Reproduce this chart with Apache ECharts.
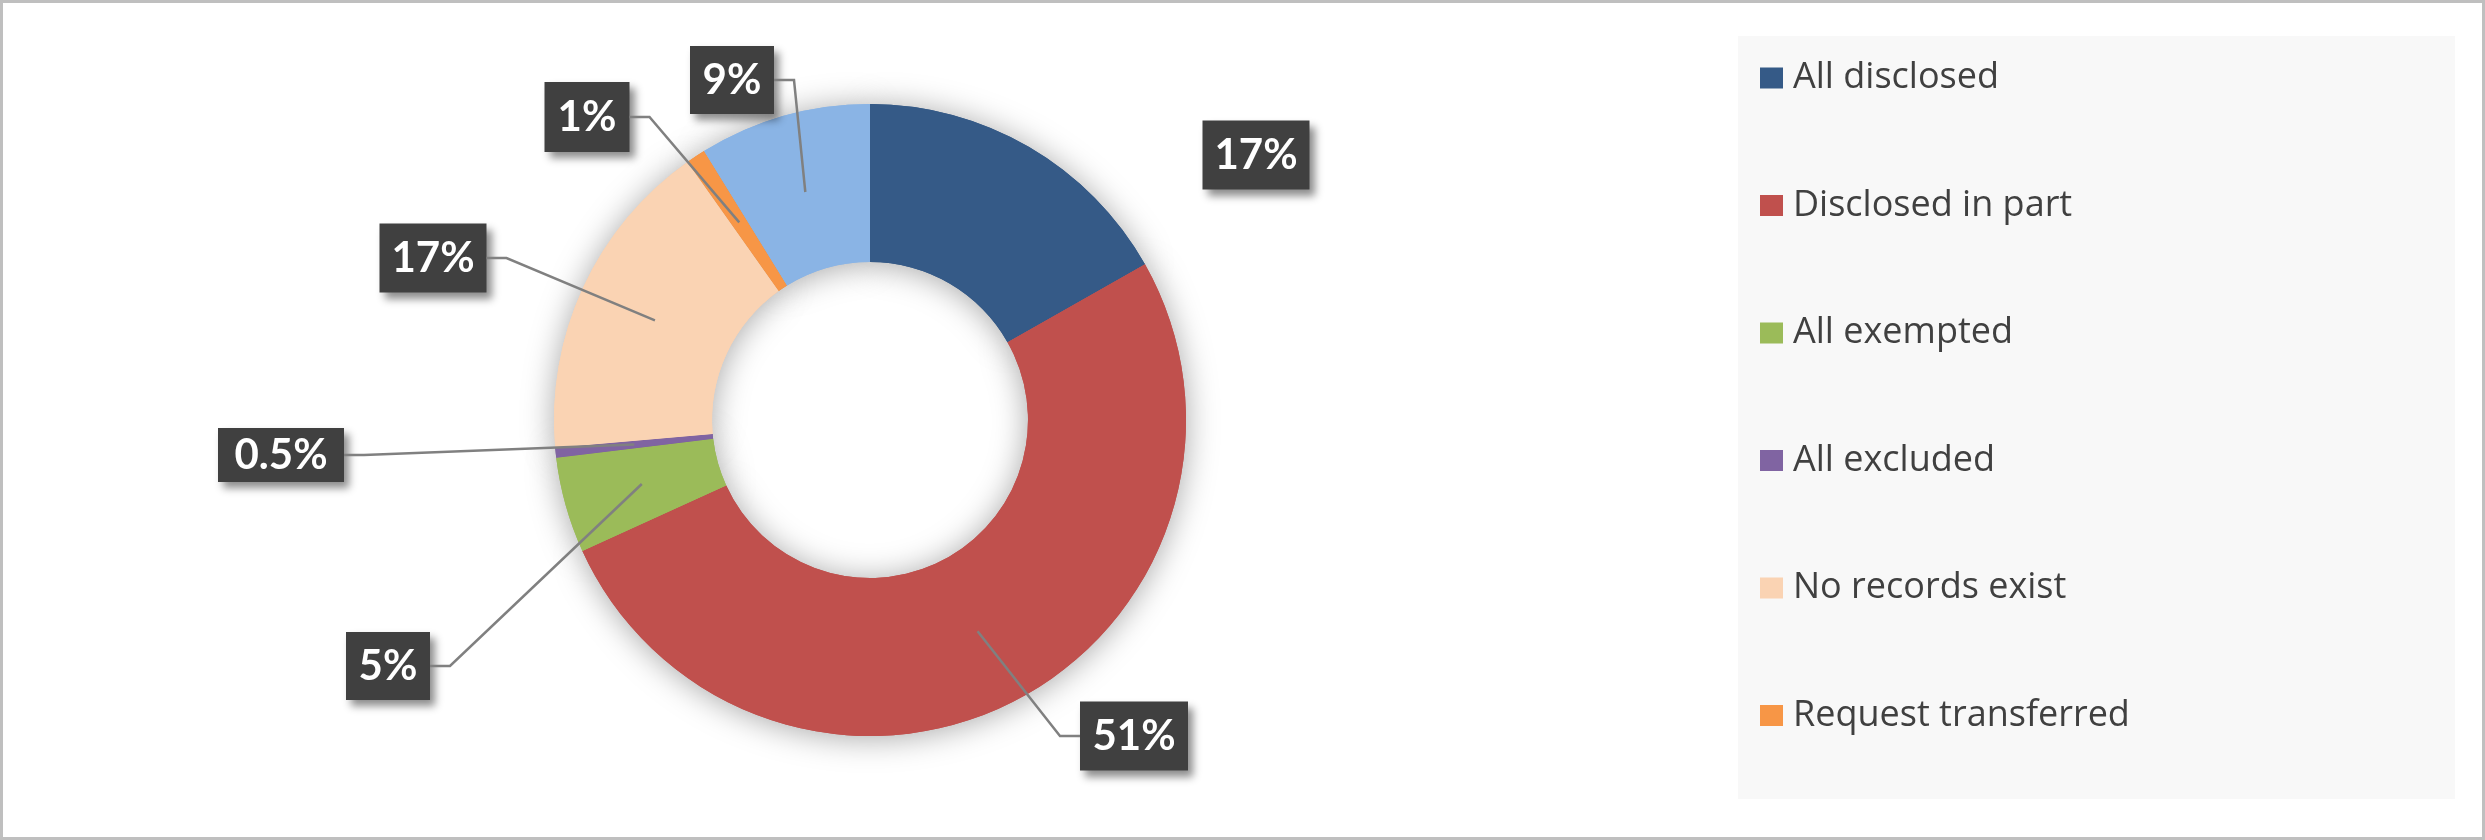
<!DOCTYPE html>
<html><head><meta charset="utf-8">
<script src="https://cdn.jsdelivr.net/npm/echarts@6/dist/echarts.min.js"></script>
<style>html,body{margin:0;padding:0;background:#fff}#c{width:2485px;height:840px}</style>
</head><body><div id="c"></div>
<script>
// ---- data ----
const categories = ['All disclosed', 'Disclosed in part', 'All exempted', 'All excluded', 'No records exist', 'Request transferred', 'Other'];
const legendCategories = ['All disclosed', 'Disclosed in part', 'All exempted', 'All excluded', 'No records exist', 'Request transferred'];
const shares = [16.8, 51.4, 4.9, 0.5, 16.6, 1.0, 8.8];

// ---- style ----
const colors = ['#355A87', '#C0504D', '#9BBB59', '#8064A2', '#FAD3B3', '#F79646', '#8AB4E5'];
const labelOffsets = [[386, -265], [264, 316], [-482, 246], [-589, 35], [-437, -162], [-283, -303], [-138, -340]];
const labelBoxes = [[107, 69], [108, 69], [84, 68], [126, 54], [107, 69], [85, 70], [84, 68]];
const showLeader = [false, true, true, true, true, true, true];
const CX = 870, CY = 420, R0 = 158, R1 = 316;
const LH = 41;

function fmt(v) { return (v < 1 ? v.toFixed(1) : Math.round(v)) + '%'; }

const pieData = categories.map((n, i) => ({
  name: n, value: shares[i], itemStyle: { color: colors[i] },
  label: { width: labelBoxes[i][0], padding: [(labelBoxes[i][1] - LH) / 2, 0] }
}));

const baseGraphics = [
  { id: 'border', type: 'rect', z: -10, shape: { x: 1.5, y: 1.5, width: 2482, height: 837 }, style: { fill: '#fff', stroke: '#BFBFBF', lineWidth: 3 } },
  { id: 'panel', type: 'rect', z: -5, shape: { x: 1738, y: 36, width: 717, height: 763 }, style: { fill: '#F8F8F8' } }
];

const chart = echarts.init(document.getElementById('c'), null, { renderer: 'canvas' });

chart.setOption({
  animation: false,
  backgroundColor: '#ffffff',
  graphic: baseGraphics,
  legend: {
    data: legendCategories,
    orient: 'vertical',
    left: 1760, top: 58,
    padding: 0,
    itemWidth: 23, itemHeight: 21,
    itemGap: 87.5,
    icon: 'rect',
    selectedMode: false,
    textStyle: { fontFamily: 'Open Sans', fontSize: 36, lineHeight: 40, color: '#404040', padding: [0, 0, 0, 5] }
  },
  series: [
    {
      type: 'pie', silent: true, center: [CX, CY], radius: [R0, R1],
      data: categories.map((n, i) => ({ name: n, value: shares[i], itemStyle: { color: colors[i] } })),
      label: { show: false }, labelLine: { show: false },
      itemStyle: { shadowBlur: 32, shadowColor: 'rgba(0,0,0,0.35)', shadowOffsetY: 2 },
      emphasis: { disabled: true }
    },
    {
      type: 'pie', center: [CX, CY], radius: [R0, R1],
      avoidLabelOverlap: false,
      emphasis: { disabled: true },
      data: pieData,
      label: {
        show: true, position: 'outside',
        formatter: p => fmt(shares[p.dataIndex]),
        color: '#ffffff', fontFamily: 'Lato', fontWeight: 'bold', fontSize: 42, lineHeight: LH,
        align: 'center',
        backgroundColor: '#404040',
        shadowColor: 'rgba(0,0,0,0.45)', shadowBlur: 8, shadowOffsetX: 5, shadowOffsetY: 6
      },
      labelLine: { show: false },
      labelLayout: function (params) {
        const off = labelOffsets[params.dataIndex];
        return { x: CX + off[0], y: CY + off[1], align: 'center', verticalAlign: 'middle' };
      }
    }
  ]
});

// leader lines: from the middle of each slice (taken from the library's own pie layout) to its label box
const pieLayoutData = chart.getModel().getSeriesByIndex(1).getData();
const leaders = [];
categories.forEach((n, i) => {
  if (!showLeader[i]) return;
  const lay = pieLayoutData.getItemLayout(i);
  const a = (lay.startAngle + lay.endAngle) / 2;
  const rm = (lay.r0 + lay.r) / 2;
  const anchor = [lay.cx + rm * Math.cos(a), lay.cy + rm * Math.sin(a)];
  const x = lay.cx + labelOffsets[i][0], y = lay.cy + labelOffsets[i][1];
  const side = anchor[0] > x ? 1 : -1;
  const ex = x + side * labelBoxes[i][0] / 2;
  const bx = ex + side * 20;
  leaders.push({
    id: 'leader' + i, type: 'polyline', z: 10, silent: true,
    shape: { points: [anchor, [bx, y], [ex, y]] },
    style: { stroke: '#808080', lineWidth: 2.5, fill: null }
  });
});
chart.setOption({ graphic: baseGraphics.concat(leaders) });
</script>
</body></html>
